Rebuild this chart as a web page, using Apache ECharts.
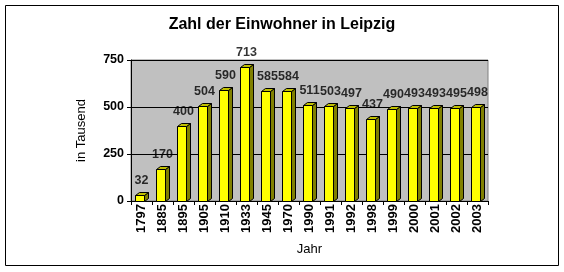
<!DOCTYPE html>
<html>
<head>
<meta charset="utf-8">
<script src="https://cdn.jsdelivr.net/npm/echarts@6/dist/echarts.min.js"></script>
<style>
html,body{margin:0;padding:0;background:#fff;}
#c{width:564px;height:272px;}
</style>
</head>
<body>
<div id="c"></div>
<script>
const years = ['1797','1885','1895','1905','1910','1933','1945','1970','1990','1991','1992','1998','1999','2000','2001','2002','2003'];
const residents = [32,170,400,504,590,713,585,584,511,503,497,437,490,493,493,495,498];
const yTicks = [0,250,500,750];

const chart = echarts.init(document.getElementById('c'), null, {renderer:'canvas'});
const FONT = '"Liberation Sans", Arial, sans-serif';

chart.setOption({
  animation: false,
  backgroundColor: '#ffffff',
  title: {
    text: 'Zahl der Einwohner in Leipzig',
    left: 'center', top: 12,
    textStyle: {fontFamily: FONT, fontSize: 16, fontWeight: 'bold', color: '#000'}
  },
  graphic: [{
    type: 'rect', shape: {x: 5.5, y: 5.5, width: 553, height: 260},
    style: {fill: 'none', stroke: '#000', lineWidth: 1}, z: -1
  }],
  grid: {
    left: 131, right: 76, top: 60, bottom: 71,
    show: true, backgroundColor: '#C0C0C0', borderColor: '#808080', borderWidth: 1
  },
  xAxis: {
    type: 'category', data: years,
    name: 'Jahr', nameLocation: 'middle', nameGap: 42,
    nameTextStyle: {fontFamily: FONT, fontSize: 13, color: '#000'},
    axisLine: {lineStyle: {color: '#000', width: 1}},
    axisTick: {show: true, length: 4, lineStyle: {color: '#000'}},
    axisLabel: {rotate: 90, margin: 3, fontFamily: FONT, fontSize: 13, fontWeight: 'bold', color: '#000'}
  },
  yAxis: {
    type: 'value', min: yTicks[0], max: yTicks[yTicks.length-1], interval: 250,
    name: 'in Tausend', nameLocation: 'middle', nameGap: 43,
    nameTextStyle: {fontFamily: FONT, fontSize: 13, color: '#000'},
    axisLine: {show: true, lineStyle: {color: '#000', width: 1}},
    axisTick: {show: true, length: 4, lineStyle: {color: '#000'}},
    axisLabel: {margin: 7, fontFamily: FONT, fontSize: 12.5, fontWeight: 'bold', color: '#000'},
    splitLine: {show: true, lineStyle: {color: '#000', width: 1}}
  },
  series: [{
    type: 'custom',
    data: residents.map((v, i) => [i, v]),
    encode: {x: 0, y: 1},
    renderItem: function (params, api) {
      const idx = api.value(0), v = api.value(1);
      const top = api.coord([idx, v]);
      const base = api.coord([idx, 0]);
      const cw = api.size([1, 0])[0];
      const bw = Math.round(cw * 0.43);
      const d = 4, dy = 3;
      const x0 = Math.round(top[0] - (bw + d) / 2) + 0.5;
      const yt = Math.round(top[1]) + 0.5;
      const yb = Math.round(base[1]) + 0.5;
      return {
        type: 'group',
        children: [
          {type: 'polygon', shape: {points: [[x0 + bw, yt], [x0 + bw + d, yt - dy], [x0 + bw + d, yb - dy], [x0 + bw, yb]]},
           style: {fill: '#808000', stroke: '#000', lineWidth: 1}},
          {type: 'polygon', shape: {points: [[x0, yt], [x0 + d, yt - dy], [x0 + bw + d, yt - dy], [x0 + bw, yt]]},
           style: {fill: '#C0C000', stroke: '#000', lineWidth: 1}},
          {type: 'rect', shape: {x: x0, y: yt, width: bw, height: yb - yt},
           style: {fill: '#FFFF00', stroke: '#000', lineWidth: 1}}
        ]
      };
    },
    z: 3
  }, {
    type: 'scatter',
    data: residents.map((v, i) => [i, v]),
    symbolSize: 0,
    label: {
      show: true, position: 'top', distance: 8,
      formatter: p => String(p.value[1]),
      fontFamily: FONT, fontSize: 12.5, fontWeight: 'bold', color: '#000'
    },
    z: 4
  }]
});
</script>
</body>
</html>
